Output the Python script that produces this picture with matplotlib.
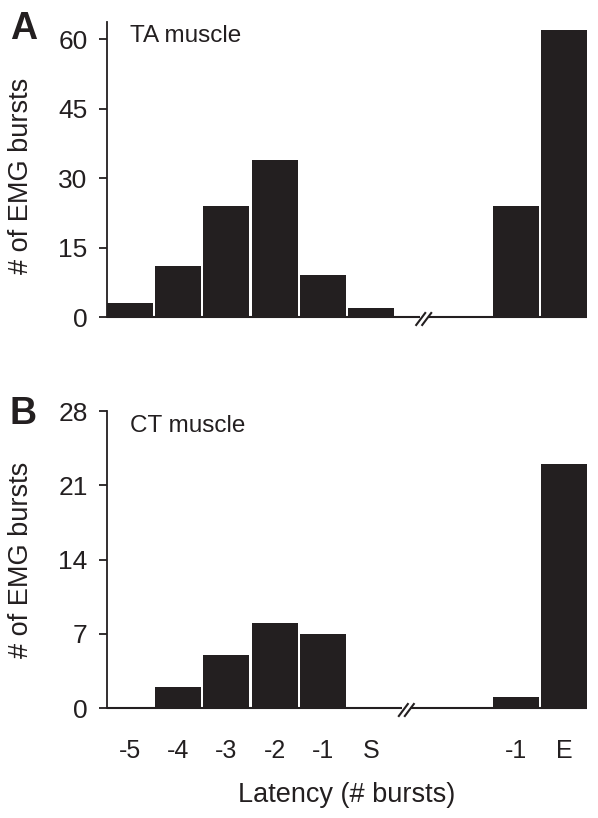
import matplotlib
matplotlib.use("Agg")
import matplotlib.pyplot as plt
import numpy as np

plt.rcParams['font.family'] = ['Liberation Sans', 'DejaVu Sans']

# Data
positions = [0, 1, 2, 3, 4, 5, 8, 9]
tick_labels = ["-5", "-4", "-3", "-2", "-1", "S", "-1", "E"]
ta_counts = [3, 11, 24, 34, 9, 2, 24, 62]
ct_counts = [0, 2, 5, 8, 7, 0, 1, 23]
ta_yticks = [0, 15, 30, 45, 60]
ct_yticks = [0, 7, 14, 21, 28]

DARK = "#231f20"
W, H = 598, 818
fig = plt.figure(figsize=(W / 100, H / 100), dpi=100)

xmin, xmax = -0.475, 9.475

def make_axes(rect, counts, yticks, ytop, label, label_y, letter, letter_y, break_x,
              show_xlabels, ylabel_frac):
    ax = fig.add_axes(rect)
    ax.bar(positions, counts, width=0.95, color=DARK, edgecolor='none', zorder=2)
    ax.set_xlim(xmin, xmax)
    ax.set_ylim(0, ytop)
    ax.set_yticks(yticks)
    ax.set_yticklabels([str(t) for t in yticks], fontsize=19)
    ax.tick_params(axis='y', direction='out', length=6, width=1.3, color=DARK, pad=8, labelcolor=DARK)
    for s in ['top', 'right', 'bottom']:
        ax.spines[s].set_visible(False)
    ax.spines['left'].set_color(DARK)
    ax.spines['left'].set_linewidth(1.3)
    if show_xlabels:
        ax.set_xticks(positions)
        ax.set_xticklabels(tick_labels, fontsize=18, color=DARK)
        ax.tick_params(axis='x', length=0, pad=22)
    else:
        ax.set_xticks([])
    ax.set_ylabel("# of EMG bursts", fontsize=19.5, color=DARK)
    ax.yaxis.set_label_coords(-0.152, ylabel_frac)
    # Broken x-axis line
    hp = rect[3] * H  # axes height in px
    xr = xmax - xmin
    wp = rect[2] * W
    g = 4.0 / wp * xr  # half gap in data units
    ax.plot([xmin, break_x - g], [0, 0], color=DARK, lw=1.5, clip_on=False, zorder=3,
            solid_capstyle='butt')
    ax.plot([break_x + g, xmax], [0, 0], color=DARK, lw=1.5, clip_on=False, zorder=3,
            solid_capstyle='butt')
    # slashes
    yscale = ytop / hp
    for off in (-3.0, 3.0):
        x0 = break_x + (off - 4.5) / wp * xr
        x1 = break_x + (off + 4.5) / wp * xr
        ax.plot([x0, x1], [-8 * yscale, 4 * yscale], color=DARK, lw=1.5, clip_on=False,
                zorder=3)
    fig.text(130 / W, 1 - label_y / H, label, fontsize=17.5, color=DARK,
             va='baseline', ha='left')
    fig.text(10 / W, 1 - letter_y / H, letter, fontsize=27, fontweight='bold', color=DARK,
             va='baseline', ha='left')
    return ax

axA = make_axes([107 / W, 1 - 317 / H, 480 / W, 295 / H], ta_counts, ta_yticks, 63.7,
                "TA muscle", 42, "A", 39, 6.09, False, 0.48)
axB = make_axes([107 / W, 1 - 708 / H, 480 / W, 297 / H], ct_counts, ct_yticks, 28,
                "CT muscle", 432, "B", 424, 5.73, True, 0.5)
axB.set_xlabel("Latency (# bursts)", fontsize=19.5, color=DARK, labelpad=14)

fig.savefig("out.png", dpi=100)
